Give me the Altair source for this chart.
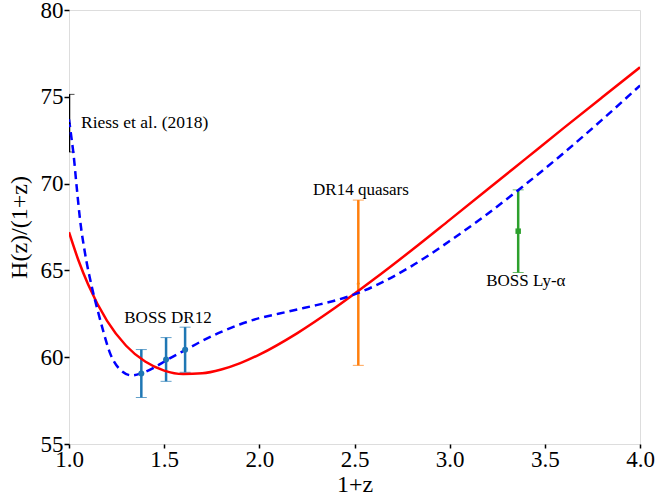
import altair as alt
import pandas as pd

# Model curves
red_x = [1.0, 1.05, 1.1, 1.2, 1.3, 1.4, 1.5, 1.6, 1.7, 1.8, 1.9, 2.0, 2.2, 2.4, 2.6, 2.8, 3.0, 3.2, 3.4, 3.6, 3.8, 4.0]
red_y = [67.2, 65.57, 64.20, 62.09, 60.66, 59.75, 59.23, 59.03, 59.07, 59.29, 59.66, 60.15, 61.39, 62.86, 64.47, 66.16, 67.91, 69.67, 71.44, 73.21, 74.96, 76.70]

blue_x = [1.0, 1.014, 1.023, 1.04, 1.058, 1.084, 1.119, 1.154, 1.18, 1.215, 1.268, 1.33, 1.382, 1.45, 1.513, 1.615, 1.70, 1.80, 1.90, 2.0, 2.1, 2.2, 2.3, 2.4, 2.5, 2.634, 2.8, 3.0, 3.2, 3.4, 3.6, 3.8, 4.0]
blue_y = [73.7, 72.54, 71.77, 69.85, 67.93, 66.0, 64.1, 62.56, 61.5, 60.25, 59.29, 58.95, 59.08, 59.42, 59.83, 60.44, 60.94, 61.46, 61.9, 62.25, 62.5, 62.75, 63.0, 63.27, 63.62, 64.25, 65.25, 66.69, 68.27, 69.97, 71.77, 73.67, 75.65]

# Observational points
obs_x = [1.0, 1.38, 1.51, 1.61, 2.52, 3.36]
obs_y = [73.48, 59.06, 59.87, 60.43, 64.29, 67.26]
obs_err = [1.66, 1.38, 1.26, 1.30, 4.76, 2.38]
obs_color = ["#000000", "#1f77b4", "#1f77b4", "#1f77b4", "#ff7f0e", "#2ca02c"]
obs_shape = ["circle", "circle", "circle", "circle", "triangle-up", "square"]
obs_size = [6, 36, 36, 36, 14, 30]

# Annotations
lab_text = ["BOSS DR12", "DR14 quasars", "BOSS Ly-α"]
lab_x = [1.52, 2.534, 3.40]
lab_y = [61.99, 69.37, 64.09]
riess_text = ["Riess et al. (2018)"]
riess_x = [1.063]
riess_y = [73.5]

curves = pd.concat([
    pd.DataFrame({"x": red_x, "y": red_y, "model": "red"}),
    pd.DataFrame({"x": blue_x, "y": blue_y, "model": "blue"}),
])
obs = pd.DataFrame({"x": obs_x, "y": obs_y, "err": obs_err, "color": obs_color,
                    "shape": obs_shape, "size": obs_size})
obs["lo"] = obs["y"] - obs["err"]
obs["hi"] = obs["y"] + obs["err"]
labs = pd.DataFrame({"x": lab_x, "y": lab_y, "t": lab_text})
riess = pd.DataFrame({"x": riess_x, "y": riess_y, "t": riess_text})

FONT = "Liberation Serif"
xs = alt.Scale(domain=[1.0, 4.0], nice=False, zero=False)
ys = alt.Scale(domain=[55, 80], nice=False, zero=False)

xaxis = alt.Axis(values=[1.0, 1.5, 2.0, 2.5, 3.0, 3.5, 4.0], format=".1f", title="1+z",
                 grid=False, domain=False, tickSize=4, tickWidth=1.5, tickColor="black",
                 labelFont=FONT, labelFontSize=23, labelColor="black", labelPadding=0,
                 titleFont=FONT, titleFontSize=24, titleFontWeight="normal", titleColor="black",
                 titlePadding=1, labelFlush=False)
yaxis = alt.Axis(values=[55, 60, 65, 70, 75, 80], format="d", title="H(z)/(1+z)",
                 grid=False, domain=False, tickSize=5, tickWidth=1.5, tickColor="black",
                 labelFont=FONT, labelFontSize=23, labelColor="black", labelPadding=1,
                 titleFont=FONT, titleFontSize=24, titleFontWeight="normal", titleColor="black",
                 titlePadding=9, labelFlush=False)

base_x = alt.X("x:Q", scale=xs, axis=xaxis)
base_y = alt.Y("y:Q", scale=ys, axis=yaxis)

bars = alt.Chart(obs).mark_rule(strokeWidth=2.5, clip=True).encode(
    x=base_x, y=alt.Y("lo:Q", scale=ys, axis=yaxis), y2="hi:Q",
    color=alt.Color("color:N", scale=None))
caps_lo = alt.Chart(obs).mark_tick(orient="horizontal", size=11, thickness=1, clip=True).encode(
    x=base_x, y=alt.Y("lo:Q", scale=ys, axis=yaxis), color=alt.Color("color:N", scale=None))
caps_hi = alt.Chart(obs).mark_tick(orient="horizontal", size=11, thickness=1, clip=True).encode(
    x=base_x, y=alt.Y("hi:Q", scale=ys, axis=yaxis), color=alt.Color("color:N", scale=None))

red_line = alt.Chart(curves).transform_filter(alt.datum.model == "red").mark_line(
    color="#ff0000", strokeWidth=2.5, interpolate="monotone", clip=True).encode(x=base_x, y=base_y, order="x:Q")
blue_line = alt.Chart(curves).transform_filter(alt.datum.model == "blue").mark_line(
    color="#0000ff", strokeWidth=2.5, strokeDash=[8, 5], interpolate="monotone", clip=True).encode(
    x=base_x, y=base_y, order="x:Q")

pts = alt.Chart(obs).mark_point(filled=True, opacity=1, clip=True).encode(
    x=base_x, y=base_y,
    color=alt.Color("color:N", scale=None),
    shape=alt.Shape("shape:N", scale=None),
    size=alt.Size("size:Q", scale=None))

txt = alt.Chart(labs).mark_text(font=FONT, fontSize=17, align="center", baseline="alphabetic",
                                color="black").encode(x=base_x, y=base_y, text="t:N")
txt_r = alt.Chart(riess).mark_text(font=FONT, fontSize=17.5, align="left", baseline="middle",
                                   color="black").encode(x=base_x, y=base_y, text="t:N")

chart = alt.layer(bars, caps_lo, caps_hi, red_line, blue_line, pts, txt, txt_r).properties(
    width=571, height=434,
    autosize=alt.AutoSizeParams(type="none"),
    padding={"left": 69, "top": 10, "right": 16, "bottom": 59},
).configure_view(stroke="black", strokeWidth=2).configure(background="white")

chart.save("out.html", embed_options={"renderer": "svg", "actions": False})
